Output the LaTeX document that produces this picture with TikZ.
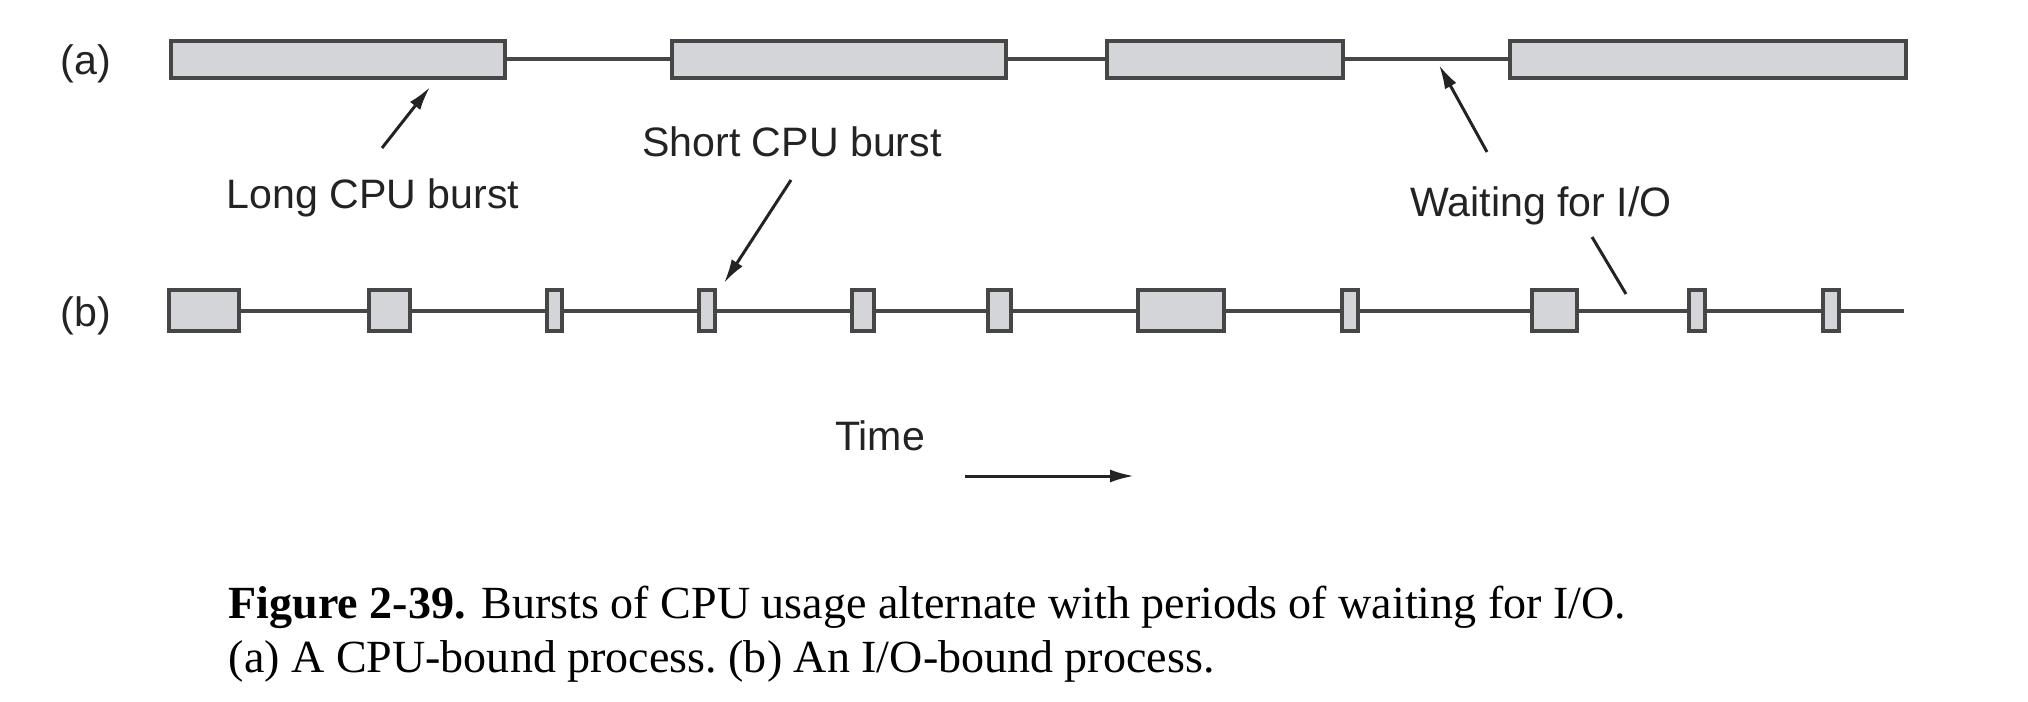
\documentclass[tikz,border=0pt]{standalone}
\usepackage{fontspec}
\setmainfont{Liberation Serif}
\setsansfont{Liberation Sans}
\usetikzlibrary{arrows.meta}
\definecolor{bfill}{RGB}{212,213,216}
\definecolor{bdraw}{RGB}{70,70,70}
\definecolor{ink}{RGB}{35,35,35}

\begin{document}
\begin{tikzpicture}[
    x=0.1mm,
    y=-0.1mm,
    burst/.style={draw=bdraw,
        fill=bfill,
        line width=0.4mm,
        inner sep=0pt},
    wait/.style={bdraw, line width=0.4mm},
    pointer/.style={ink,
        line width=0.3mm,
        -{Latex[length=2.4mm, width=1.3mm]}},
    lbl/.style={font=\sffamily\fontsize{11.7pt}{14pt}\selectfont,
        text=ink, inner sep=0pt, anchor=base},
    captext/.style={font=\frenchspacing\fontsize{13.1pt}{16pt}\selectfont,
        inner sep=0pt, anchor=base west}]

\useasboundingbox (0,0) rectangle (2028,701);

% Row labels
\node[lbl] (rowa) at (86,75) {(a)};
\node[lbl] (rowb) at (86,326) {(b)};

% (a) long bursts
\foreach \n/\c/\w in {1/338/334, 2/839/334, 3/1225/236, 4/1708/396}
    \node[burst, minimum height=3.7mm, minimum width=\w*0.1mm] (a\n) at (\c,59.5) {};
\foreach \n [count=\m from 2] in {1,2,3}
    \draw[wait] (a\n.east) -- (a\m.west);

% (b) short bursts
\foreach \n/\c/\w in {1/204/70, 2/389.5/41, 3/554.5/15, 4/707/16, 5/863/22,
    6/999.5/23, 7/1181/86, 8/1350/16, 9/1554.5/45, 10/1697/16, 11/1831/16}
    \node[burst, minimum height=4.1mm, minimum width=\w*0.1mm] (b\n) at (\c,310.5) {};
\foreach \n [count=\m from 2] in {1,...,10}
    \draw[wait] (b\n.east) -- (b\m.west);
\coordinate (bend) at (1904,310.5);
\draw[wait] (b11.east) -- (bend);

% Long CPU burst
\node[lbl] (longlbl) at (373,209) {Long CPU burst};
\coordinate (longtail) at (382,148);
\coordinate (longtip) at (430,87);
\draw[pointer] (longtail) -- (longtip);

% Short CPU burst
\node[lbl] (shortlbl) at (792,157) {Short CPU burst};
\coordinate (shorttail) at (791,180);
\coordinate (shorttip) at (724,283);
\draw[pointer] (shorttail) -- (shorttip);

% Waiting for I/O
\node[lbl] (waitlbl) at (1541,216) {Waiting for I/O};
\coordinate (waittail) at (1487,152);
\coordinate (waittip) at (1439,65);
\draw[pointer] (waittail) -- (waittip);
\coordinate (waitfrom) at (1592,237);
\coordinate (waitto) at (1626,294);
\draw[ink, line width=0.3mm] (waitfrom) -- (waitto);

% Time
\node[lbl] (timelbl) at (880,450) {Time};
\coordinate (timestart) at (965,476);
\coordinate (timeend) at (1134,476);
\draw[pointer] (timestart) -- (timeend);

% Caption
\node[captext] (cap1) at (228,618)
    {\textbf{Figure 2-39.}\hspace{0.35em}Bursts of CPU usage alternate with periods of waiting for I/O.};
\node[captext] (cap2) at (228,672)
    {(a) A CPU-bound process. (b) An I/O-bound process.};

\end{tikzpicture}
\end{document}
